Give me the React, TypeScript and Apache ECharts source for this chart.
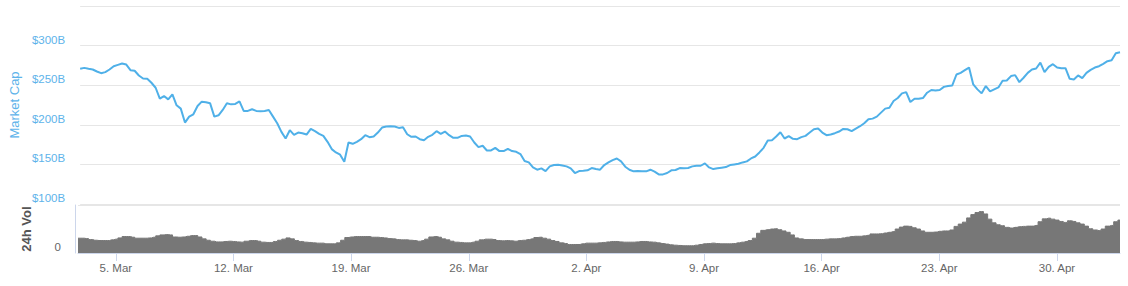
import React, { useEffect, useRef } from 'react';
import * as echarts from 'echarts';

// Samples every 6 hours, starting 2 Mar 2018 18:00 UTC
const START_UTC = Date.UTC(2018, 2, 2, 18);
const STEP_HOURS = 6;
const MONTHS = ['Jan', 'Feb', 'Mar', 'Apr', 'May', 'Jun', 'Jul', 'Aug', 'Sep', 'Oct', 'Nov', 'Dec'];

// Market cap, billions of USD
const marketCap = [
  270.7, 271.9, 270.7, 269.8, 267.3, 265.2, 266.5, 269.8, 274.0, 275.7,
  277.4, 276.1, 269.0, 268.2, 262.3, 258.5, 258.1, 253.1, 246.8, 233.0,
  236.3, 232.1, 238.4, 224.6, 220.4, 202.8, 210.3, 213.3, 223.7, 229.2,
  228.4, 227.1, 210.3, 212.0, 218.7, 227.1, 225.8, 226.3, 229.6, 217.5,
  217.5, 219.6, 217.5, 217.0, 217.5, 218.7, 210.3, 202.0, 191.1, 182.7,
  193.2, 187.3, 190.2, 189.4, 187.7, 194.8, 191.9, 188.5, 186.0, 178.5,
  169.3, 165.1, 162.2, 153.4, 177.7, 176.0, 178.5, 181.8, 186.9, 184.4,
  185.2, 190.2, 196.5, 197.8, 198.2, 197.8, 196.1, 196.9, 188.1, 184.8,
  185.2, 181.8, 180.6, 184.8, 187.3, 191.9, 188.5, 191.5, 186.9, 183.5,
  183.5, 186.0, 186.4, 185.2, 177.7, 171.8, 173.5, 167.6, 167.6, 170.9,
  166.8, 166.8, 169.7, 166.8, 165.9, 163.0, 154.2, 152.5, 146.2, 143.3,
  145.0, 141.6, 147.5, 149.2, 149.6, 148.7, 147.5, 145.0, 139.1, 141.6,
  142.0, 142.5, 145.4, 144.1, 143.3, 149.2, 152.5, 155.4, 157.5, 153.8,
  147.1, 143.3, 141.2, 141.6, 141.2, 141.2, 143.3, 140.8, 137.4, 137.4,
  139.1, 142.5, 142.9, 145.4, 145.0, 145.4, 147.5, 148.3, 148.3, 151.3,
  146.2, 144.1, 145.0, 145.8, 146.6, 149.2, 150.0, 150.8, 152.5, 153.8,
  157.5, 160.0, 165.1, 170.9, 180.3, 180.6, 185.2, 190.6, 182.7, 185.6,
  182.3, 181.8, 184.4, 186.0, 190.2, 194.4, 195.2, 190.2, 186.9, 187.7,
  189.4, 191.5, 194.8, 194.4, 191.9, 195.2, 198.2, 202.0, 207.0, 207.8,
  210.3, 215.4, 220.4, 221.6, 230.0, 233.8, 239.7, 241.3, 228.8, 233.0,
  233.0, 233.8, 240.5, 243.9, 243.4, 243.9, 247.9, 248.9, 249.7, 263.5,
  265.6, 269.0, 272.3, 251.0, 244.7, 239.7, 248.9, 242.2, 244.7, 247.2,
  255.6, 256.0, 261.5, 262.7, 253.9, 259.4, 265.6, 269.8, 271.1, 278.6,
  266.5, 273.2, 276.5, 272.3, 271.5, 271.5, 258.1, 257.3, 262.3, 258.9,
  265.6, 269.4, 272.3, 274.0, 277.0, 280.3, 281.6, 290.4, 291.6,
];

// 24h volume, billions of USD
const volume24h = [
  10.8, 10.8, 10.5, 9.8, 9.3, 9.1, 9.1, 9.1, 9.6, 10.1,
  11.0, 12.0, 12.0, 11.5, 10.8, 10.8, 10.8, 11.0, 11.5, 12.5,
  13.2, 13.4, 13.2, 11.7, 11.5, 11.7, 12.2, 12.7, 12.7, 11.7,
  10.3, 9.3, 8.6, 8.1, 8.1, 8.4, 8.6, 8.4, 8.1, 7.9,
  8.6, 9.1, 9.1, 8.6, 7.9, 7.7, 7.7, 8.4, 9.3, 10.1,
  11.0, 10.3, 9.1, 8.4, 7.9, 7.7, 7.4, 7.2, 7.2, 6.7,
  6.7, 6.7, 7.4, 9.3, 11.3, 11.7, 12.0, 12.0, 12.0, 12.0,
  11.5, 11.5, 11.3, 11.0, 10.5, 10.3, 9.8, 9.6, 9.6, 9.3,
  9.1, 8.6, 9.1, 10.1, 11.7, 12.0, 11.5, 10.3, 9.6, 8.6,
  7.9, 7.7, 7.4, 7.4, 7.9, 8.6, 9.6, 10.1, 10.1, 9.8,
  9.1, 8.9, 9.1, 8.9, 8.6, 9.1, 9.3, 9.8, 10.3, 11.3,
  11.5, 10.8, 10.1, 9.1, 8.4, 7.4, 6.9, 6.2, 6.2, 6.2,
  6.7, 7.2, 7.2, 7.2, 7.4, 7.7, 8.1, 8.4, 8.4, 8.1,
  7.9, 7.9, 7.9, 8.1, 8.4, 8.4, 8.1, 7.9, 7.4, 6.9,
  6.5, 6.0, 5.7, 5.5, 5.3, 5.3, 5.3, 5.7, 6.2, 6.7,
  6.9, 7.2, 6.9, 6.7, 6.7, 6.7, 6.9, 7.4, 7.9, 8.4,
  9.1, 10.8, 14.4, 16.5, 17.0, 17.5, 17.7, 17.0, 16.1, 15.1,
  13.2, 11.0, 10.3, 9.8, 9.8, 9.8, 9.8, 9.8, 10.1, 10.3,
  10.3, 10.5, 11.0, 11.5, 12.0, 12.2, 12.2, 12.5, 12.9, 13.9,
  13.9, 14.1, 14.6, 15.1, 15.6, 17.5, 18.9, 19.6, 19.4, 18.4,
  17.5, 16.1, 15.1, 15.1, 15.3, 15.8, 16.1, 16.1, 16.8, 19.4,
  21.1, 22.5, 25.6, 28.0, 29.5, 30.2, 28.5, 24.7, 22.0, 20.6,
  19.9, 18.7, 18.2, 18.7, 19.2, 19.4, 19.6, 19.6, 20.1, 22.8,
  24.9, 25.4, 24.7, 24.0, 23.0, 22.3, 23.5, 23.0, 22.0, 21.1,
  19.6, 17.7, 16.8, 16.3, 17.5, 19.6, 20.1, 22.8, 24.0,
];

const capAxis = { min: 100, max: 350, step: 50 };
const volAxis = { min: 0, max: 35 };

const timestamps = marketCap.map((_, i) => START_UTC + i * STEP_HOURS * 3600 * 1000);
const categories = timestamps.map((t) => String(t));

const isWeekTick = (idx: number) => {
  const d = new Date(timestamps[idx]);
  return d.getUTCDay() === 1 && d.getUTCHours() === 0;
};
const dateLabel = (t: number) => {
  const d = new Date(t);
  return `${d.getUTCDate()}. ${MONTHS[d.getUTCMonth()]}`;
};

const FONT = '"Liberation Sans", Arial, sans-serif';
const BLUE_TEXT = '#5db3ea';
const LINE_BLUE = '#4fb0e8';

export default function App() {
  const ref = useRef<HTMLDivElement>(null);

  useEffect(() => {
    if (!ref.current) return;
    const chart = echarts.init(ref.current, null, { renderer: 'svg' });
    chart.setOption({
      animation: false,
      textStyle: { fontFamily: FONT },
      grid: [
        { left: 78, right: 8, top: 6, height: 198 },
        { left: 78, right: 8, top: 205, height: 48 },
      ],
      xAxis: [
        {
          type: 'category',
          gridIndex: 0,
          data: categories,
          boundaryGap: false,
          show: false,
        },
        {
          type: 'category',
          gridIndex: 1,
          data: categories,
          boundaryGap: false,
          axisLine: { show: true, lineStyle: { color: '#ccd6eb', width: 1 } },
          axisTick: {
            show: true,
            length: 8,
            interval: (i: number) => isWeekTick(i),
            lineStyle: { color: '#ccd6eb' },
          },
          axisLabel: {
            interval: (i: number) => isWeekTick(i),
            formatter: (v: string) => dateLabel(Number(v)),
            color: '#666666',
            fontSize: 11.5,
            fontFamily: FONT,
            margin: 9,
          },
          splitLine: { show: false },
        },
      ],
      yAxis: [
        {
          type: 'value',
          gridIndex: 0,
          min: capAxis.min,
          max: capAxis.max,
          interval: capAxis.step,
          name: 'Market Cap',
          nameLocation: 'middle',
          nameRotate: 90,
          nameGap: 56,
          nameTextStyle: { color: BLUE_TEXT, fontSize: 13, fontFamily: FONT },
          axisLine: { show: false },
          axisTick: { show: false },
          axisLabel: {
            formatter: (v: number) => (v === capAxis.max ? '' : `$${v}B`),
            color: BLUE_TEXT,
            fontSize: 11.5,
            fontFamily: FONT,
            verticalAlign: 'bottom',
            margin: 15,
          },
          splitLine: { show: true, lineStyle: { color: '#e6e6e6', width: 1 } },
        },
        {
          type: 'value',
          gridIndex: 1,
          min: volAxis.min,
          max: volAxis.max,
          interval: volAxis.max,
          offset: 3,
          name: '24h Vol',
          nameLocation: 'middle',
          nameRotate: 90,
          nameGap: 42,
          nameTextStyle: { color: '#555555', fontSize: 13, fontWeight: 'bold', fontFamily: FONT },
          axisLine: { show: true, lineStyle: { color: '#ccd6eb' } },
          axisTick: { show: false },
          axisLabel: {
            formatter: (v: number) => (v === 0 ? '0' : ''),
            color: '#666666',
            fontSize: 11.5,
            fontFamily: FONT,
            verticalAlign: 'bottom',
            margin: 14,
          },
          splitLine: { show: true, lineStyle: { color: '#e6e6e6', width: 1 } },
        },
      ],
      series: [
        {
          type: 'line',
          name: 'Market Cap',
          xAxisIndex: 0,
          yAxisIndex: 0,
          data: marketCap,
          symbol: 'none',
          smooth: false,
          lineStyle: { color: LINE_BLUE, width: 2 },
        },
        {
          type: 'line',
          name: '24h Vol',
          xAxisIndex: 1,
          yAxisIndex: 1,
          data: volume24h,
          symbol: 'none',
          step: 'middle',
          lineStyle: { color: '#777777', width: 1 },
          areaStyle: { color: '#777777', opacity: 1 },
        },
      ],
    });
    return () => chart.dispose();
  }, []);

  return (
    <div
      ref={ref}
      style={{ position: 'fixed', left: 0, top: 0, width: 1128, height: 286, background: '#ffffff' }}
    />
  );
}
